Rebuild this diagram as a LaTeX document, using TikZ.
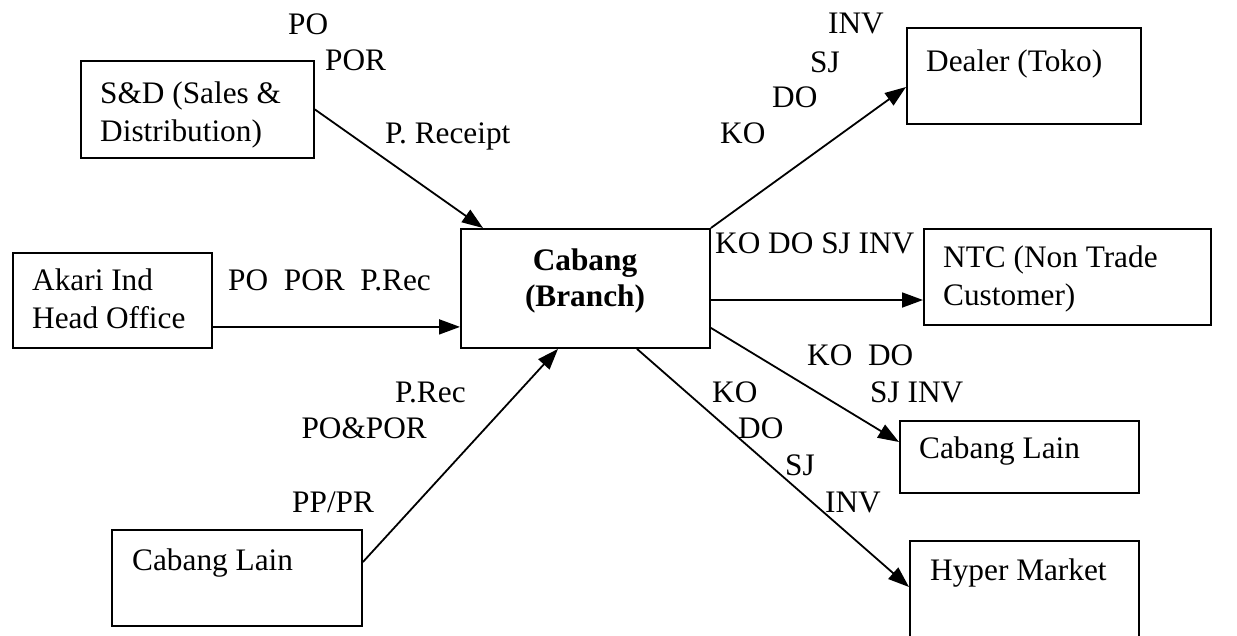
\documentclass[tikz,border=0pt]{standalone}
\usepackage{fontspec}
\setmainfont{Liberation Serif}
\usetikzlibrary{arrows.meta}
\newcommand\diagfont{\fontsize{31.3}{37}\selectfont}
\begin{document}
\begin{tikzpicture}[x=1pt,y=-1pt,
  box/.style={draw, line width=1.9pt, anchor=north west, inner sep=0pt},
  txt/.style={anchor=base west, inner sep=0pt},
  flow/.style={line width=1.8pt, -{Triangle[length=21pt,width=15pt]}},
  font=\diagfont]
\clip (0,0) rectangle (1237,635);
\fill[white] (0,0) rectangle (1237,635);

% boxes
\node[box, minimum width=233pt, minimum height=97pt]  (sd)     at (80,60)   {};
\node[box, minimum width=199pt, minimum height=95pt]  (akari)  at (12,252)  {};
\node[box, minimum width=249pt, minimum height=119pt] (cab)    at (460,228) {};
\node[box, minimum width=250pt, minimum height=96pt]  (cl1)    at (111,529) {};
\node[box, minimum width=234pt, minimum height=96pt]  (dealer) at (906,27)  {};
\node[box, minimum width=287pt, minimum height=96pt]  (ntc)    at (923,228) {};
\node[box, minimum width=239pt, minimum height=72pt]  (cl2)    at (899,420) {};
\node[box, minimum width=229pt, minimum height=130pt] (hyper)  at (909,540) {};

% box texts
\node[txt] (sdA) at (100,103) {S\&D (Sales \&};
\node[txt] (sdB) at (100,141) {Distribution)};
\node[txt] (akA) at (32,290) {Akari Ind};
\node[txt] (akB) at (32,328) {Head Office};
\node[anchor=base, inner sep=0pt, font={\diagfont\bfseries}] (cabA) at (585,270) {Cabang};
\node[anchor=base, inner sep=0pt, font={\diagfont\bfseries}] (cabB) at (585,306) {(Branch)};
\node[txt] (clA) at (132,570) {Cabang Lain};
\node[txt] (dlA) at (926,71) {Dealer (Toko)};
\node[txt] (ntA) at (943,267) {NTC (Non Trade};
\node[txt] (ntB) at (943,305) {Customer)};
\node[txt] (cbA) at (919,458) {Cabang Lain};
\node[txt] (hyA) at (930,580) {Hyper Market};

% connectors
\draw[flow] (sd.east) -- ([xshift=23pt]cab.north west);
\draw[flow] ([yshift=22pt]akari.south east) -- ([yshift=22pt]cab.south west);
\draw[flow] ([yshift=-33pt]cl1.north east) -- ([xshift=98pt]cab.south west);
\draw[flow] (cab.north east) -- ([yshift=-60pt]dealer.north west);
\draw[flow] ([yshift=-72pt]cab.north east) -- ([yshift=-72pt]ntc.north west);
\draw[flow] ([yshift=21pt]cab.south east) -- ([yshift=-22pt]cl2.north west);
\draw[flow] ([xshift=177pt]cab.south west) -- ([yshift=-47pt]hyper.north west);

% document labels
\node[txt] (l1) at (288,34) {PO};
\node[txt] (l2) at (325,70) {POR};
\node[txt] (l3) at (385,143) {P. Receipt};
\node[txt] (l4) at (228,290) {PO~~POR~~P.Rec};
\node[txt] (l5) at (395,402) {P.Rec};
\node[anchor=base east, inner sep=0pt] (l6) at (427,438) {PO\&POR};
\node[txt] (l7) at (292,512) {PP/PR};
\node[txt] (r1) at (828,33) {INV};
\node[txt] (r2) at (810,72) {SJ};
\node[txt] (r3) at (772,107) {DO};
\node[txt] (r4) at (720,143) {KO};
\node[txt] (r5) at (715,253) {KO DO SJ INV};
\node[txt] (r6) at (807,365) {KO~~DO};
\node[txt] (r7) at (870,402) {SJ INV};
\node[txt] (r8) at (712,402) {KO};
\node[txt] (r9) at (738,438) {DO};
\node[txt] (r10) at (785,475) {SJ};
\node[txt] (r11) at (825,512) {INV};
\end{tikzpicture}
\end{document}
